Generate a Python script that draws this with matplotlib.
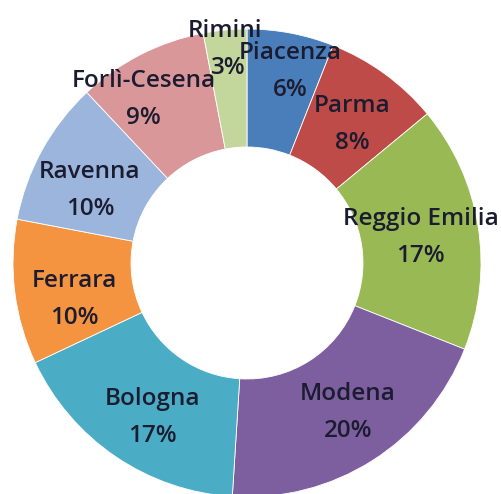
import numpy as np
import matplotlib
matplotlib.use("Agg")
from matplotlib import pyplot as plt

provinces = ['Piacenza', 'Parma', 'Reggio Emilia', 'Modena', 'Bologna',
             'Ferrara', 'Ravenna', 'Forlì-Cesena', 'Rimini']
shares = [6, 8, 17, 20, 17, 10, 10, 9, 3]
colors = ['#4a7ebb', '#be4b48', '#98b954', '#7d5fa0', '#4bacc6',
          '#f59440', '#9cb5dd', '#d9979a', '#c3d69b']

W, H = 501, 494
cx, cy = 247, H - 263
R, r = 234, 116

fig = plt.figure(figsize=(W / 100, H / 100), dpi=100)
ax = fig.add_axes([0, 0, 1, 1])

wedges, _ = ax.pie(shares, colors=colors, startangle=90, counterclock=False,
                   center=(cx, cy), radius=R, frame=True,
                   wedgeprops=dict(width=R - r, edgecolor='white', linewidth=0.6))
ax.set_xlim(0, W)
ax.set_ylim(0, H)
ax.set_aspect('equal')
ax.axis('off')

# nudges (px) for labels Excel pushed around
nudge = {'Piacenza': (10, 18), 'Rimini': (-5, 38), 'Forlì-Cesena': (-23, 6),
         'Ferrara': (3, -14), 'Ravenna': (-2, -12), 'Bologna': (5, -8),
         'Modena': (6, 0), 'Reggio Emilia': (-1, -2), 'Parma': (1, -4)}
rl = (R + r) / 2 + 2
for w, name, v in zip(wedges, provinces, shares):
    mid = np.deg2rad((w.theta1 + w.theta2) / 2)
    x = cx + rl * np.cos(mid)
    y = cy + rl * np.sin(mid)
    dx, dy = nudge.get(name, (0, 0))
    x += dx
    y += dy
    ax.text(x, y + 18, name, ha='center', va='center', fontsize=17.5,
            family='Open Sans', weight='semibold', color='#1c1c30')
    ax.text(x + (3 if name == 'Rimini' else 0), y - 19, f'{v}%', ha='center',
            va='center', fontsize=17.5, family='Open Sans', weight='semibold',
            color='#1c1c30')

fig.savefig('out.png', dpi=100)
